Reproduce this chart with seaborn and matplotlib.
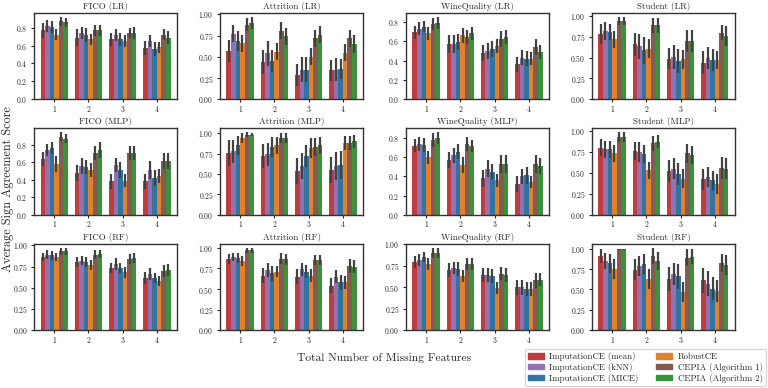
import numpy as np
import pandas as pd
import matplotlib
matplotlib.use("Agg")
import matplotlib.pyplot as plt
import seaborn as sns

# ---------------- data ----------------
features = ["1", "2", "3", "4"]
methods = ["ImputationCE (mean)", "ImputationCE (kNN)", "ImputationCE (MICE)",
           "RobustCE", "CEPIA (Algorithm 1)", "CEPIA (Algorithm 2)"]
datasets = ["FICO", "Attrition", "WineQuality", "Student"]
models = ["LR", "MLP", "RF"]

# means: one row per method, one column per number of missing features
fico_lr = [[0.77, 0.69, 0.67, 0.57], [0.82, 0.74, 0.72, 0.65], [0.81, 0.72, 0.67, 0.56],
           [0.72, 0.67, 0.65, 0.58], [0.87, 0.77, 0.74, 0.72], [0.86, 0.77, 0.74, 0.69]]
fico_lr_err = [[0.08, 0.09, 0.07, 0.08], [0.07, 0.07, 0.07, 0.07], [0.07, 0.08, 0.07, 0.08],
               [0.06, 0.06, 0.07, 0.06], [0.05, 0.06, 0.06, 0.06], [0.05, 0.06, 0.07, 0.07]]
att_lr = [[0.57, 0.44, 0.29, 0.34], [0.77, 0.54, 0.35, 0.35], [0.69, 0.45, 0.35, 0.36],
          [0.66, 0.56, 0.50, 0.55], [0.88, 0.81, 0.72, 0.72], [0.90, 0.74, 0.76, 0.65]]
att_lr_err = [[0.13, 0.14, 0.13, 0.12], [0.10, 0.15, 0.15, 0.14], [0.12, 0.13, 0.15, 0.12],
              [0.10, 0.10, 0.10, 0.10], [0.08, 0.10, 0.10, 0.10], [0.07, 0.10, 0.10, 0.11]]
wine_lr = [[0.69, 0.57, 0.48, 0.36], [0.73, 0.57, 0.50, 0.43], [0.75, 0.59, 0.52, 0.42],
           [0.68, 0.66, 0.55, 0.42], [0.78, 0.64, 0.62, 0.54], [0.79, 0.68, 0.64, 0.49]]
wine_lr_err = [[0.07, 0.09, 0.08, 0.08], [0.07, 0.09, 0.08, 0.08], [0.06, 0.08, 0.08, 0.08],
               [0.07, 0.08, 0.07, 0.07], [0.06, 0.07, 0.08, 0.08], [0.06, 0.07, 0.07, 0.07]]
stu_lr = [[0.79, 0.66, 0.49, 0.44], [0.82, 0.64, 0.51, 0.50], [0.81, 0.59, 0.46, 0.47],
          [0.72, 0.61, 0.48, 0.47], [0.94, 0.89, 0.70, 0.80], [0.94, 0.89, 0.70, 0.76]]
stu_lr_err = [[0.12, 0.14, 0.13, 0.14], [0.11, 0.15, 0.14, 0.13], [0.10, 0.16, 0.14, 0.13],
              [0.10, 0.11, 0.11, 0.11], [0.05, 0.09, 0.13, 0.09], [0.05, 0.09, 0.13, 0.12]]

fico_mlp = [[0.64, 0.48, 0.38, 0.38], [0.74, 0.56, 0.57, 0.51], [0.76, 0.55, 0.51, 0.42],
            [0.58, 0.51, 0.39, 0.44], [0.89, 0.70, 0.71, 0.61], [0.87, 0.74, 0.71, 0.61]]
fico_mlp_err = [[0.08, 0.09, 0.09, 0.09], [0.07, 0.09, 0.08, 0.10], [0.07, 0.08, 0.09, 0.09],
                [0.09, 0.08, 0.07, 0.08], [0.05, 0.08, 0.08, 0.09], [0.05, 0.09, 0.08, 0.09]]
att_mlp = [[0.76, 0.72, 0.54, 0.55], [0.78, 0.74, 0.60, 0.60], [0.85, 0.83, 0.72, 0.61],
           [0.94, 0.85, 0.82, 0.88], [0.98, 0.94, 0.83, 0.88], [0.98, 0.94, 0.85, 0.90]]
att_mlp_err = [[0.16, 0.15, 0.16, 0.16], [0.14, 0.14, 0.16, 0.17], [0.12, 0.12, 0.14, 0.17],
               [0.06, 0.10, 0.12, 0.09], [0.03, 0.06, 0.11, 0.09], [0.02, 0.06, 0.10, 0.08]]
wine_mlp = [[0.72, 0.57, 0.38, 0.32], [0.74, 0.62, 0.48, 0.40], [0.73, 0.66, 0.45, 0.41],
            [0.60, 0.52, 0.36, 0.34], [0.78, 0.74, 0.53, 0.53], [0.80, 0.72, 0.53, 0.51]]
wine_mlp_err = [[0.07, 0.08, 0.09, 0.08], [0.07, 0.08, 0.09, 0.08], [0.07, 0.08, 0.08, 0.09],
                [0.07, 0.08, 0.07, 0.06], [0.07, 0.07, 0.09, 0.09], [0.06, 0.06, 0.09, 0.08]]
stu_mlp = [[0.80, 0.76, 0.52, 0.42], [0.78, 0.75, 0.55, 0.45], [0.78, 0.72, 0.48, 0.41],
           [0.73, 0.53, 0.43, 0.37], [0.92, 0.85, 0.73, 0.56], [0.92, 0.87, 0.71, 0.55]]
stu_mlp_err = [[0.10, 0.11, 0.13, 0.12], [0.10, 0.12, 0.13, 0.12], [0.10, 0.11, 0.13, 0.11],
               [0.10, 0.10, 0.11, 0.12], [0.06, 0.09, 0.11, 0.13], [0.06, 0.08, 0.11, 0.12]]

fico_rf = [[0.86, 0.80, 0.73, 0.61], [0.89, 0.82, 0.78, 0.66], [0.88, 0.80, 0.73, 0.61],
           [0.86, 0.77, 0.68, 0.58], [0.93, 0.89, 0.84, 0.70], [0.93, 0.90, 0.85, 0.71]]
fico_rf_err = [[0.05, 0.06, 0.06, 0.07], [0.05, 0.05, 0.07, 0.07], [0.05, 0.06, 0.06, 0.06],
               [0.05, 0.06, 0.07, 0.06], [0.04, 0.05, 0.06, 0.07], [0.04, 0.05, 0.06, 0.07]]
att_rf = [[0.86, 0.66, 0.65, 0.54], [0.89, 0.73, 0.74, 0.65], [0.88, 0.69, 0.71, 0.58],
          [0.84, 0.71, 0.66, 0.58], [0.97, 0.87, 0.85, 0.78], [0.97, 0.86, 0.85, 0.77]]
att_rf_err = [[0.06, 0.09, 0.09, 0.09], [0.05, 0.08, 0.08, 0.08], [0.06, 0.09, 0.08, 0.09],
              [0.06, 0.07, 0.08, 0.08], [0.03, 0.07, 0.06, 0.08], [0.03, 0.07, 0.06, 0.08]]
wine_rf = [[0.80, 0.70, 0.64, 0.50], [0.82, 0.73, 0.64, 0.50], [0.85, 0.71, 0.63, 0.48],
           [0.77, 0.63, 0.49, 0.48], [0.90, 0.77, 0.66, 0.58], [0.90, 0.77, 0.64, 0.59]]
wine_rf_err = [[0.07, 0.08, 0.08, 0.09], [0.07, 0.07, 0.08, 0.09], [0.06, 0.08, 0.08, 0.08],
               [0.07, 0.07, 0.07, 0.08], [0.06, 0.07, 0.08, 0.09], [0.06, 0.07, 0.08, 0.08]]
stu_rf = [[0.91, 0.74, 0.63, 0.61], [0.85, 0.79, 0.69, 0.57], [0.82, 0.81, 0.66, 0.51],
          [0.75, 0.63, 0.47, 0.48], [0.99, 0.91, 0.89, 0.82], [0.99, 0.85, 0.90, 0.80]]
stu_rf_err = [[0.09, 0.13, 0.15, 0.15], [0.10, 0.12, 0.14, 0.15], [0.12, 0.12, 0.15, 0.14],
              [0.12, 0.12, 0.12, 0.14], [0.01, 0.10, 0.10, 0.11], [0.01, 0.11, 0.09, 0.12]]

panels = [
    [(fico_lr, fico_lr_err), (att_lr, att_lr_err), (wine_lr, wine_lr_err), (stu_lr, stu_lr_err)],
    [(fico_mlp, fico_mlp_err), (att_mlp, att_mlp_err), (wine_mlp, wine_mlp_err), (stu_mlp, stu_mlp_err)],
    [(fico_rf, fico_rf_err), (att_rf, att_rf_err), (wine_rf, wine_rf_err), (stu_rf, stu_rf_err)],
]

palette = ["tab:red", "tab:purple", "tab:blue", "tab:orange", "tab:brown", "tab:green"]

# ---------------- style ----------------
sns.set_style("ticks")
plt.rcParams["font.family"] = ["cmr10", "DejaVu Serif"]
plt.rcParams["axes.formatter.use_mathtext"] = True
plt.rcParams["mathtext.fontset"] = "cm"

fig, axes = plt.subplots(3, 4, figsize=(7.68, 3.88), dpi=100)
fig.subplots_adjust(left=0.0443, right=0.957, top=0.967, bottom=0.149,
                    wspace=0.30, hspace=0.335)

for r, model in enumerate(models):
    for c, ds in enumerate(datasets):
        ax = axes[r, c]
        means, errs = panels[r][c]
        rows = []
        for mi, m in enumerate(methods):
            for fi, f in enumerate(features):
                rows.append({"features": f, "method": m, "score": means[mi][fi]})
        df = pd.DataFrame(rows)
        sns.barplot(data=df, x="features", y="score", hue="method",
                    order=features, hue_order=methods, palette=palette,
                    errorbar=None, legend=False, linewidth=0, ax=ax)
        bar_conts = list(ax.containers)
        for mi, cont in enumerate(bar_conts):
            xs = [b.get_x() + b.get_width() / 2 for b in cont.patches]
            ys = [b.get_height() for b in cont.patches]
            ax.errorbar(xs, ys, yerr=errs[mi], fmt="none", ecolor=".26",
                        elinewidth=1.6, capsize=0)
        ax.set_title(f"{ds} ({model})", fontsize=6.5, pad=3)
        ax.set_xlabel("")
        ax.set_ylabel("")
        ax.tick_params(axis="both", labelsize=5.5, length=2.5, width=0.8, pad=2)
        for s in ax.spines.values():
            s.set_linewidth(1.0)
            s.set_color(".2")

fig.supxlabel("Total Number of Missing Features", fontsize=8.3, y=0.065)
fig.supylabel("Average Sign Agreement Score", fontsize=8.8, x=0.002, y=0.514)

handles = [plt.Rectangle((0, 0), 1, 1, color=sns.desaturate(p, 0.75)) for p in palette]
fig.legend(handles, methods, loc="lower right", bbox_to_anchor=(0.997, 0.006),
           borderaxespad=0, ncol=2, fontsize=6.4, frameon=True,
           handlelength=1.8, handleheight=0.6, handletextpad=0.6,
           columnspacing=2.0, borderpad=0.35, labelspacing=0.2)

fig.savefig("out.png", dpi=100)
